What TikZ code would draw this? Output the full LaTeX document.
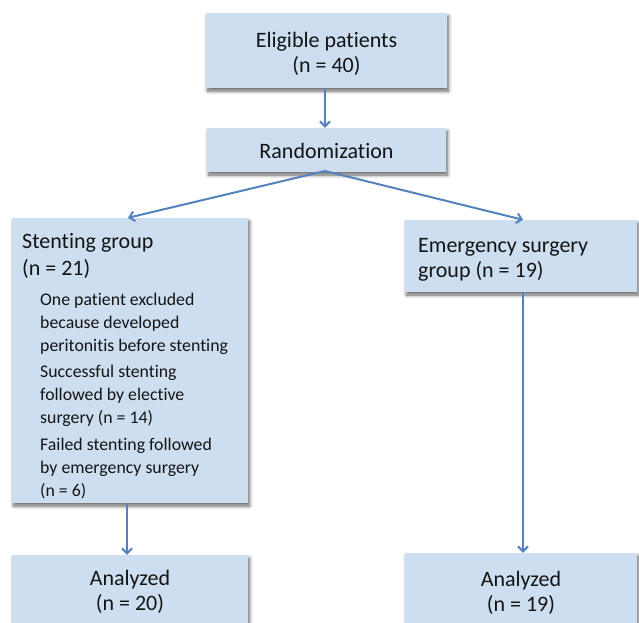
\documentclass[tikz,border=0pt]{standalone}
\usepackage{fontspec}
\setmainfont{Carlito}[Ligatures=NoCommon]
\usetikzlibrary{arrows.meta,shadows.blur}
\definecolor{boxfill}{RGB}{205,222,241}
\definecolor{arrowblue}{RGB}{84,130,190}
\definecolor{txt}{RGB}{20,20,20}
\tikzset{
  fbox/.style={draw=none, fill=boxfill, rectangle, inner sep=0pt,
    blur shadow={shadow xshift=1.5pt, shadow yshift=-3pt, shadow blur steps=8, shadow opacity=60, shadow blur radius=3.5pt}},
  mainline/.style={inner sep=0pt, text=txt, font=\fontsize{22}{26}\selectfont},
  subline/.style={inner sep=0pt, text=txt, font=\fontsize{17.8}{23}\selectfont, anchor=base west},
  flow/.style={draw=arrowblue, line width=2pt, -{Straight Barb[length=5pt,width=10pt,line width=2pt]}}
}
\begin{document}
\begin{tikzpicture}[x=1pt,y=-1pt]
\useasboundingbox (0,0) rectangle (639,622);
% boxes
\node[fbox, minimum width=241pt, minimum height=75pt] (elig) at (326.5,50.5) {};
\node[fbox, minimum width=239pt, minimum height=44pt] (rand) at (326.5,150) {};
\node[fbox, minimum width=236pt, minimum height=285pt] (stent) at (130,360.5) {};
\node[fbox, minimum width=232pt, minimum height=72pt] (emerg) at (521,256) {};
\node[fbox, minimum width=236pt, minimum height=70pt] (an1) at (130,590) {};
\node[fbox, minimum width=232pt, minimum height=72pt] (an2) at (521,589) {};
% texts
\node[mainline, anchor=base] (t1) at (326.5,47) {Eligible patients};
\node[mainline, anchor=base] (t2) at (326.5,72) {(n = 40)};
\node[mainline, anchor=base] (t3) at (326.5,158) {Randomization};
\node[mainline, anchor=base west] (t4) at (22,248) {Stenting group};
\node[mainline, anchor=base west] (t5) at (22,275) {(n = 21)};
\node[subline] (s1) at (40,305) {One patient excluded};
\node[subline] (s2) at (40,328) {because developed};
\node[subline] (s3) at (40,351) {peritonitis before stenting};
\node[subline] (s4) at (40,377) {Successful stenting};
\node[subline] (s5) at (40,400) {followed by elective};
\node[subline] (s6) at (40,423) {surgery (n = 14)};
\node[subline] (s7) at (40,450) {Failed stenting followed};
\node[subline] (s8) at (40,473) {by emergency surgery};
\node[subline] (s9) at (40,496) {(n = 6)};
\node[mainline, anchor=base west] (e1) at (418,252) {Emergency surgery};
\node[mainline, anchor=base west] (e2) at (418,277) {group (n = 19)};
\node[mainline, anchor=base] (a1) at (130,585) {Analyzed};
\node[mainline, anchor=base] (a2) at (130,610) {(n = 20)};
\node[mainline, anchor=base] (b1) at (521,586) {Analyzed};
\node[mainline, anchor=base] (b2) at (521,611) {(n = 19)};
% connectors
\coordinate (rb) at (325,171);
\draw[flow] (elig.south -| rb) -- (rand.north -| rb);
\draw[flow] (rb) -- ([xshift=-2pt]stent.north);
\draw[flow] (rb) -- ([xshift=2pt]emerg.north);
\draw[flow] ([xshift=-3pt]stent.south) -- ([xshift=-3pt]an1.north);
\draw[flow] ([xshift=2pt]emerg.south) -- ([xshift=2pt]an2.north);
\end{tikzpicture}
\end{document}
